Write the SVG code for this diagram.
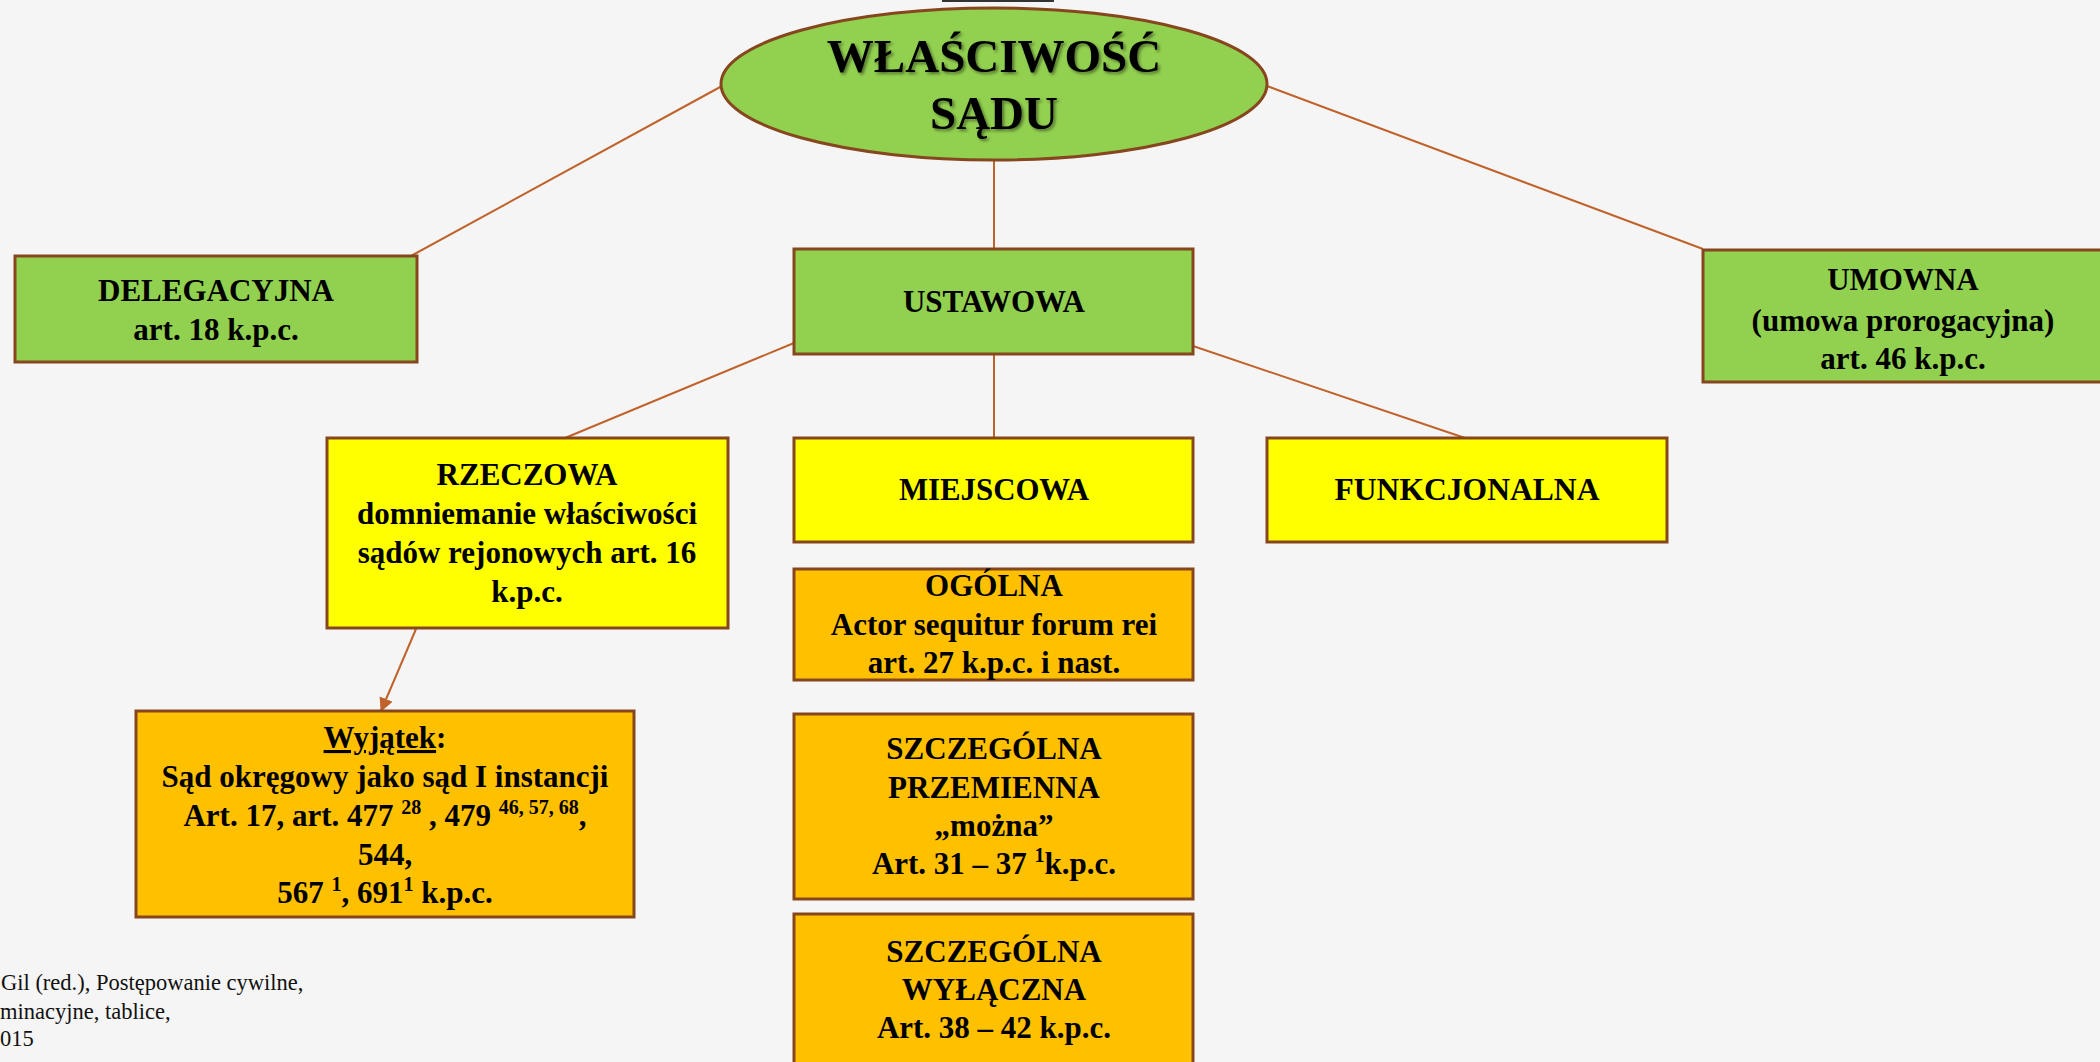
<svg xmlns="http://www.w3.org/2000/svg" width="2100" height="1062" viewBox="0 0 2100 1062">
<defs>
<style>
.bg{fill:#F5F5F5}
.box{stroke:#86461E;stroke-width:3}
.green{fill:#92D050}
.yellow{fill:#FFFF00}
.orange{fill:#FFC000}
.conn{stroke:#C0622B;stroke-width:2;fill:none}
.t{font-family:"Liberation Serif","Times New Roman",serif;font-weight:bold;font-size:31px;fill:#000;text-anchor:middle}
.title{font-family:"Liberation Serif","Times New Roman",serif;font-weight:bold;font-size:47px;fill:#000;text-anchor:middle}
.cite{font-family:"Liberation Serif","Times New Roman",serif;font-size:22.5px;fill:#111}
</style>
<marker id="arr" markerWidth="16" markerHeight="16" refX="13" refY="7" orient="auto" markerUnits="userSpaceOnUse">
<path d="M0,0 L14,7 L0,14 z" fill="#C0622B"/>
</marker>
<filter id="shadow" x="-10%" y="-10%" width="120%" height="130%">
<feDropShadow dx="2" dy="2" stdDeviation="1.5" flood-color="#000" flood-opacity="0.45"/>
</filter>
</defs>
<rect class="bg" x="0" y="0" width="2100" height="1062"/>
<rect x="943" y="-20" width="110" height="21" fill="#FFFFFF" stroke="#333" stroke-width="2"/>

<g id="connectors">
<line class="conn" x1="722" y1="86" x2="411" y2="256"/>
<line class="conn" x1="1267" y1="86" x2="1703" y2="249"/>
<line class="conn" x1="994" y1="161" x2="994" y2="249"/>
<line class="conn" x1="794" y1="343" x2="565" y2="438"/>
<line class="conn" x1="994" y1="354" x2="994" y2="438"/>
<line class="conn" x1="1193" y1="346" x2="1465" y2="438"/>
<line class="conn" x1="416" y1="629" x2="381" y2="711" marker-end="url(#arr)"/>
</g>

<g id="wlasciwosc">
<ellipse cx="994" cy="84" rx="273" ry="76" fill="#92D050" stroke="#86461E" stroke-width="3"/>
<text class="title" filter="url(#shadow)"><tspan x="994" y="72">WŁAŚCIWOŚĆ</tspan><tspan x="994" y="129">SĄDU</tspan></text>
</g>

<g id="delegacyjna">
<rect class="box green" x="15" y="256" width="402" height="106"/>
<text class="t"><tspan x="216" y="301">DELEGACYJNA</tspan><tspan x="216" y="340">art. 18 k.p.c.</tspan></text>
</g>

<g id="ustawowa">
<rect class="box green" x="794" y="249" width="399" height="105"/>
<text class="t" x="994" y="312">USTAWOWA</text>
</g>

<g id="umowna">
<rect class="box green" x="1703" y="250" width="410" height="132"/>
<text class="t"><tspan x="1903" y="290">UMOWNA</tspan><tspan x="1903" y="331">(umowa prorogacyjna)</tspan><tspan x="1903" y="369">art. 46 k.p.c.</tspan></text>
</g>

<g id="rzeczowa">
<rect class="box yellow" x="327" y="438" width="401" height="190"/>
<text class="t"><tspan x="527" y="485">RZECZOWA</tspan><tspan x="527" y="524">domniemanie właściwości</tspan><tspan x="527" y="563">sądów rejonowych art. 16</tspan><tspan x="527" y="602">k.p.c.</tspan></text>
</g>

<g id="miejscowa">
<rect class="box yellow" x="794" y="438" width="399" height="104"/>
<text class="t" x="994" y="500" textLength="190" lengthAdjust="spacingAndGlyphs" font-size="34">MIEJSCOWA</text>
</g>

<g id="funkcjonalna">
<rect class="box yellow" x="1267" y="438" width="400" height="104"/>
<text class="t" x="1467" y="500" textLength="265" lengthAdjust="spacingAndGlyphs" font-size="34">FUNKCJONALNA</text>
</g>

<g id="ogolna">
<rect class="box orange" x="794" y="569" width="399" height="111"/>
<text class="t"><tspan x="994" y="596">OGÓLNA</tspan><tspan x="994" y="635">Actor sequitur forum rei</tspan><tspan x="994" y="673">art. 27 k.p.c. i nast.</tspan></text>
</g>

<g id="przemienna">
<rect class="box orange" x="794" y="714" width="399" height="185"/>
<text class="t"><tspan x="994" y="759">SZCZEGÓLNA</tspan><tspan x="994" y="798">PRZEMIENNA</tspan><tspan x="994" y="836">„można”</tspan><tspan x="994" y="874">Art. 31 – 37 <tspan font-size="20" dy="-12">1</tspan><tspan dy="12">k.p.c.</tspan></tspan></text>
</g>

<g id="wylaczna">
<rect class="box orange" x="794" y="914" width="399" height="160"/>
<text class="t"><tspan x="994" y="962">SZCZEGÓLNA</tspan><tspan x="994" y="1000">WYŁĄCZNA</tspan><tspan x="994" y="1038">Art. 38 – 42 k.p.c.</tspan></text>
</g>

<g id="wyjatek">
<rect class="box orange" x="136" y="711" width="498" height="206"/>
<text class="t"><tspan x="385" y="748"><tspan text-decoration="underline">Wyjątek</tspan>:</tspan><tspan x="385" y="787">Sąd okręgowy jako sąd I instancji</tspan><tspan x="385" y="826">Art. 17, art. 477 <tspan font-size="20" dy="-12">28</tspan><tspan dy="12"> , 479 </tspan><tspan font-size="20" dy="-12">46, 57, 68</tspan><tspan dy="12">,</tspan></tspan><tspan x="385" y="865">544,</tspan><tspan x="385" y="903">567 <tspan font-size="20" dy="-12">1</tspan><tspan dy="12">, 691</tspan><tspan font-size="20" dy="-12">1</tspan><tspan dy="12">  k.p.c.</tspan></tspan></text>
</g>

<g id="citation">
<text class="cite"><tspan x="1" y="990">Gil (red.), Postępowanie cywilne,</tspan><tspan x="0" y="1019">minacyjne, tablice,</tspan><tspan x="0" y="1046">015</tspan></text>
</g>
</svg>
